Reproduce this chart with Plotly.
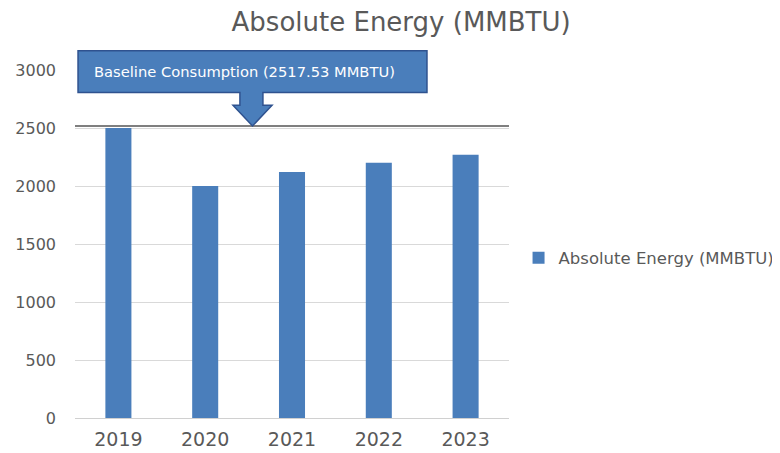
import plotly.graph_objects as go

years = ["2019", "2020", "2021", "2022", "2023"]
energy = [2500, 2000, 2120, 2200, 2270]
baseline = 2517.53
y_ticks = [0, 500, 1000, 1500, 2000, 2500, 3000]
series_name = "Absolute Energy (MMBTU)"
title_text = "Absolute Energy (MMBTU)"
callout_text = "Baseline Consumption (2517.53 MMBTU)"

YMAX = 3000
FONT = "DejaVu Sans"
GRAY = "#595959"
BLUE = "#4A7EBB"

fig = go.Figure()
fig.add_trace(go.Bar(
    x=years, y=energy, name=series_name,
    marker=dict(color=BLUE, line=dict(width=0)),
    showlegend=True,
))

# callout geometry (paper coords)
tip_y = baseline / YMAX
bx0, bx1 = 0.007, 0.811
by0, by1 = 0.935, 1.055
sL, sR = 0.380, 0.433
hL, hR = 0.364, 0.454
tipx = 0.409
htop = 0.899
path = (f"M{bx0},{by1} L{bx1},{by1} L{bx1},{by0} L{sR},{by0} L{sR},{htop} "
        f"L{hR},{htop} L{tipx},{tip_y} L{hL},{htop} L{sL},{htop} L{sL},{by0} "
        f"L{bx0},{by0} Z")

fig.update_layout(
    width=780, height=453,
    margin=dict(l=67, r=279, t=62, b=43, autoexpand=False),
    paper_bgcolor="white", plot_bgcolor="white",
    font=dict(family=FONT, color=GRAY),
    bargap=0.7,
    title=dict(text=title_text, x=0.504, xref="container", xanchor="center",
               y=0.969, yref="container", yanchor="middle",
               font=dict(size=26, color=GRAY, family=FONT)),
    xaxis=dict(showgrid=False, showline=False, ticks="", zeroline=False,
               tickfont=dict(size=19, color=GRAY), ticklabelstandoff=8),
    yaxis=dict(range=[0, YMAX], tickvals=y_ticks, showgrid=True,
               gridcolor="#D9D9D9", gridwidth=1, zeroline=True,
               zerolinecolor="#D0D0D0", zerolinewidth=1, showline=False,
               ticks="", tickfont=dict(size=16, color=GRAY),
               ticklabelstandoff=18),
    legend=dict(x=1.022, y=0.46, xref="paper", yref="paper",
                xanchor="left", yanchor="middle",
                font=dict(size=16.5, color=GRAY), bgcolor="rgba(0,0,0,0)"),
    shapes=[
        dict(type="line", xref="paper", yref="y", x0=0, x1=1,
             y0=baseline, y1=baseline, line=dict(color="#7F7F7F", width=2)),
        dict(type="path", xref="paper", yref="paper", path=path,
             fillcolor=BLUE, line=dict(color="#2F528F", width=1.5),
             layer="above"),
    ],
    annotations=[
        dict(text=callout_text, xref="paper", yref="paper",
             x=0.04, y=(by0 + by1) / 2, xanchor="left", yanchor="middle",
             showarrow=False, font=dict(size=14.7, color="white", family=FONT)),
    ],
)

fig.write_html("out.html")
